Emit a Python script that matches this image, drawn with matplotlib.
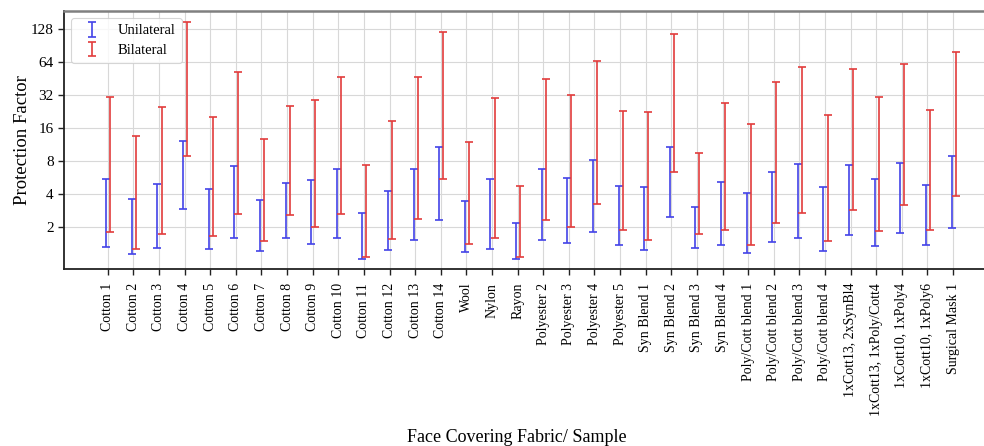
import matplotlib
matplotlib.use("Agg")
import matplotlib.pyplot as plt
import numpy as np

categories = ["Cotton 1", "Cotton 2", "Cotton 3", "Cotton 4", "Cotton 5", "Cotton 6", "Cotton 7",
              "Cotton 8", "Cotton 9", "Cotton 10", "Cotton 11", "Cotton 12", "Cotton 13", "Cotton 14",
              "Wool", "Nylon", "Rayon", "Polyester 2", "Polyester 3", "Polyester 4", "Polyester 5",
              "Syn Blend 1", "Syn Blend 2", "Syn Blend 3", "Syn Blend 4",
              "Poly/Cott blend 1", "Poly/Cott blend 2", "Poly/Cott blend 3", "Poly/Cott blend 4",
              "1xCott13, 2xSynBl4", "1xCott13, 1xPoly/Cott4", "1xCott10, 1xPoly4", "1xCott10, 1xPoly6",
              "Surgical Mask 1"]

uni_low = [1.34, 1.14, 1.31, 2.97, 1.27, 1.62, 1.22, 1.59, 1.43, 1.60, 1.04, 1.25, 1.55, 2.35,
           1.19, 1.27, 1.04, 1.55, 1.44, 1.82, 1.38, 1.25, 2.50, 1.30, 1.38,
           1.17, 1.47, 1.62, 1.22, 1.71, 1.37, 1.78, 1.38, 1.96]
uni_high = [5.5, 3.64, 4.95, 12.1, 4.43, 7.2, 3.56, 5.06, 5.35, 6.75, 2.71, 4.27, 6.77, 10.8,
            3.51, 5.46, 2.18, 6.77, 5.62, 8.17, 4.74, 4.62, 10.7, 3.09, 5.2,
            4.15, 6.41, 7.62, 4.62, 7.46, 5.57, 7.78, 4.89, 8.94]
bi_low = [1.83, 1.27, 1.74, 8.9, 1.66, 2.65, 1.51, 2.58, 2.03, 2.63, 1.07, 1.57, 2.39, 5.57,
          1.42, 1.62, 1.08, 2.34, 2.04, 3.27, 1.91, 1.53, 6.37, 1.75, 1.91,
          1.40, 2.19, 2.71, 1.50, 2.86, 1.85, 3.18, 1.89, 3.83]
bi_high = [30.5, 13.6, 24.8, 148, 20.1, 51.6, 12.7, 25.5, 28.9, 46.2, 7.34, 18.4, 46.2, 119,
           12.0, 29.9, 4.74, 44.9, 32.2, 65.6, 22.8, 22.3, 115, 9.6, 27.2,
           17.5, 41.9, 57.7, 21.1, 55.7, 30.9, 61.4, 23.6, 79]

yticks = [2, 4, 8, 16, 32, 64, 128]

plt.rcParams['font.family'] = ['Liberation Serif', 'DejaVu Serif']

fig = plt.figure(figsize=(9.84, 4.46), dpi=100)
ax = fig.add_axes([0.065, 0.397, 0.94, 0.578])

x = np.arange(len(categories))

def draw(low, high, offset, color, label):
    low = np.array(low, dtype=float)
    high = np.array(high, dtype=float)
    mid = np.sqrt(low * high)
    ax.errorbar(x + offset, mid, yerr=[mid - low, high - mid], fmt='none',
                ecolor=color, elinewidth=1.2, capsize=3.2, capthick=1.2, label=label, zorder=3)

draw(uni_low, uni_high, -0.06, '#4343e8', 'Unilateral')
draw(bi_low, bi_high, 0.10, '#e23c3c', 'Bilateral')

ax.set_yscale('log', base=2)
ax.set_yticks(yticks)
ax.set_yticklabels([str(t) for t in yticks], fontsize=11)
ax.minorticks_off()
ax.set_ylim(0.84, 185)
ax.set_xlim(-1.71, 34.4)
ax.set_xticks(x)
ax.set_xticklabels(categories, rotation=90, fontsize=10)

ax.grid(True, color='#d8d8d8', linewidth=0.8, zorder=0)
ax.set_axisbelow(True)

for s in ['left', 'bottom']:
    ax.spines[s].set_color('#222222')
    ax.spines[s].set_linewidth(1.3)
ax.spines['top'].set_color('#808080')
ax.spines['top'].set_linewidth(1.8)
ax.spines['right'].set_visible(False)
ax.tick_params(axis='both', length=4, width=1.0, color='#222222')
ax.tick_params(axis='x', pad=6)

ax.set_ylabel('Protection Factor', fontsize=13.5)
ax.yaxis.set_label_coords(-0.036, 0.5)
fig.text(0.525, 0.0, 'Face Covering Fabric/ Sample', ha='center', va='bottom', fontsize=13)

leg = ax.legend(loc='upper left', fontsize=10.5, frameon=True, borderaxespad=0.5,
                handlelength=2.0, labelspacing=0.45)
leg.get_frame().set_edgecolor('#cccccc')
leg.get_frame().set_linewidth(0.8)

fig.savefig('out.png', dpi=100)
